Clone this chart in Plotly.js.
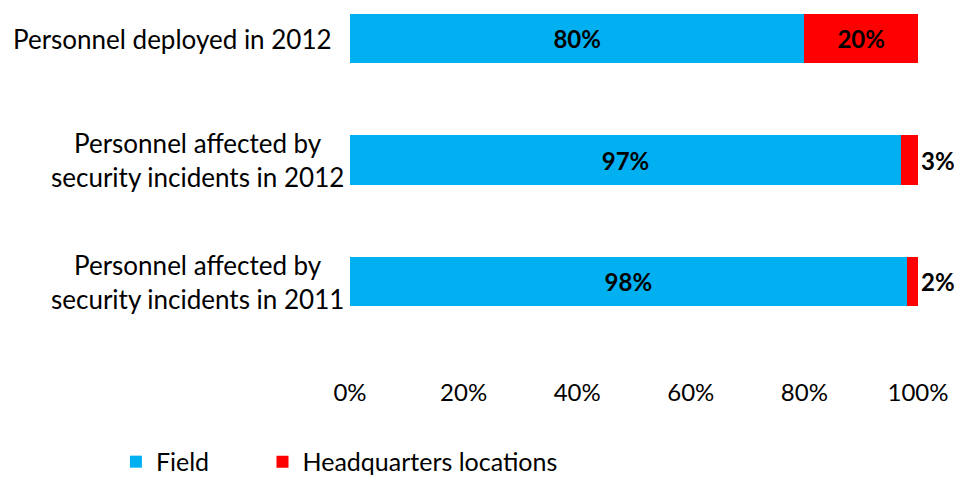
<!DOCTYPE html>
<html><head><meta charset="utf-8">
<script src="https://cdn.plot.ly/plotly-3.0.1.min.js"></script>
<style>html,body{margin:0;padding:0;background:#fff}#chart{width:958px;height:481px}</style>
</head><body><div id="chart"></div>
<script>
var categories = ["Personnel deployed in 2012", "Personnel affected by<br>security incidents in 2012", "Personnel affected by<br>security incidents in 2011"];
var fieldValues = [0.80, 0.97, 0.98];
var hqValues = [0.20, 0.03, 0.02];
var seriesNames = ["Field", "Headquarters locations"];
var xTickVals = [0, 0.2, 0.4, 0.6, 0.8, 1.0];
var xTickText = ["0%", "20%", "40%", "60%", "80%", "100%"];

var FONT = "Lato, 'Open Sans', sans-serif";
var fmt = function(v){ return Math.round(v*100) + "%"; };

var traces = [
  {type:'bar', orientation:'h', name:seriesNames[0], y:categories, x:fieldValues, legend:'legend',
   marker:{color:'#00B0F0'}, text:fieldValues.map(fmt), textposition:'inside',
   insidetextanchor:'middle', constraintext:'none', textangle:0,
   insidetextfont:{family:FONT, size:24, color:'#000', weight:'bold'}, cliponaxis:false, hoverinfo:'none'},
  {type:'bar', orientation:'h', name:seriesNames[1], y:categories, x:hqValues, legend:'legend2',
   marker:{color:'#FF0000'}, text:hqValues.map(fmt),
   textposition:hqValues.map(function(v){return v>=0.1?'inside':'outside';}),
   insidetextanchor:'middle', constraintext:'none', textangle:0,
   textfont:{family:FONT, size:24, color:'#000', weight:'bold'}, cliponaxis:false, hoverinfo:'none'}
];

var annotations = categories.map(function(c){
  var single = c.indexOf('<br>') < 0;
  return {xref:'paper', yref:'y', x:0, y:c, xanchor:'right', yanchor:'middle', xshift: single ? -16 : -4,
          text:c, showarrow:false, align:'center', font:{family:FONT, size:26, color:'#000'}};
});

var legFont = {family:FONT, size:25, color:'#000'};
var legCommon = {orientation:'h', xref:'container', yref:'container', yanchor:'top', y:0.0875, xanchor:'left',
                 font:legFont, borderwidth:0, bgcolor:'rgba(0,0,0,0)'};
var layout = {
  width:958, height:481, barmode:'stack', bargap:0.59,
  margin:{l:350, r:40, t:0, b:111},
  paper_bgcolor:'#fff', plot_bgcolor:'#fff',
  font:{family:FONT, size:22, color:'#000'},
  showlegend:true,
  legend:Object.assign({}, legCommon, {x:0.121}),
  legend2:Object.assign({}, legCommon, {x:0.274}),
  xaxis:{range:[0,1], tickvals:xTickVals, ticktext:xTickText, showgrid:false, zeroline:false, showline:false,
         ticks:'', ticklabelstandoff:6, tickfont:{family:FONT, size:24, color:'#000'}, fixedrange:true},
  yaxis:{type:'category', categoryorder:'array', categoryarray:categories, range:[2.728, -0.317],
         showticklabels:false, showgrid:false, zeroline:false, showline:false, ticks:'', fixedrange:true},
  annotations:annotations
};
Plotly.newPlot('chart', traces, layout, {displayModeBar:false, staticPlot:true});
</script></body></html>
